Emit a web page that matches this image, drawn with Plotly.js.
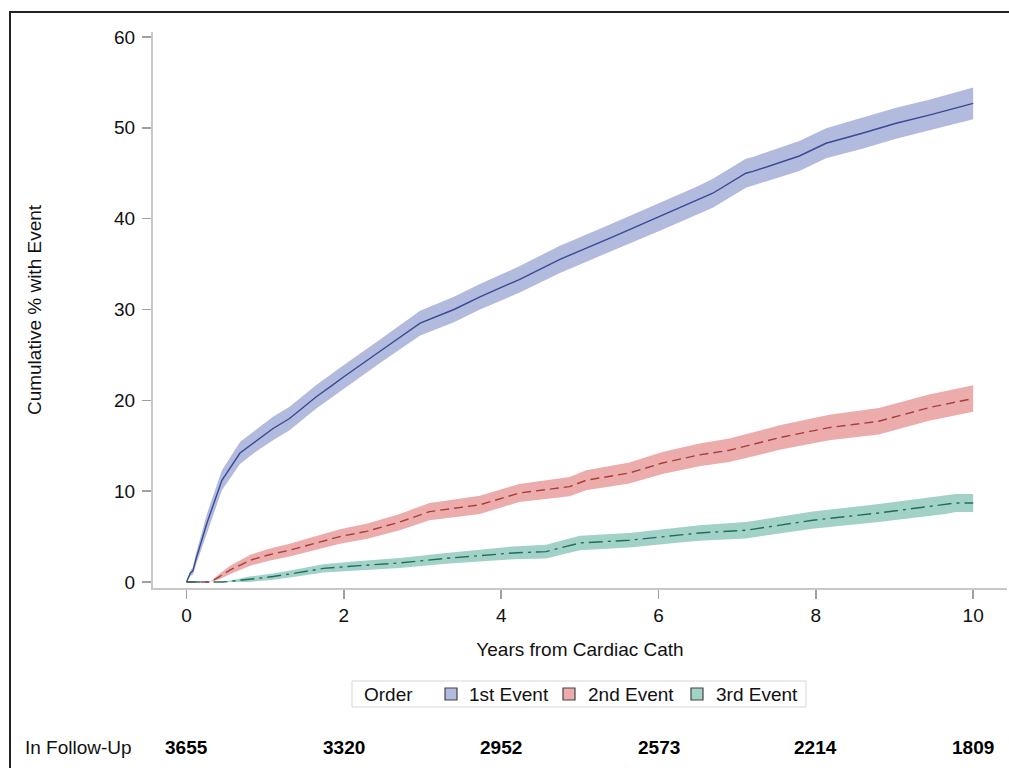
<!DOCTYPE html>
<html>
<head>
<meta charset="utf-8">
<script src="https://cdn.plot.ly/plotly-3.0.1.min.js"></script>
<style>
  html, body { margin: 0; padding: 0; background: #fff; overflow: hidden; }
  #chart { width: 1009px; height: 768px; position: relative; }
  #frame { position: absolute; left: 9px; top: 11px; width: 1200px; height: 900px;
           border-top: 2px solid #222; border-left: 2px solid #222; pointer-events: none; }
</style>
</head>
<body>
<div id="chart"></div>
<div id="frame"></div>
<script>
// ---- Data ----
const seriesNames = ['1st Event', '2nd Event', '3rd Event'];

const t1 = [0, 0.05, 0.08, 0.12, 0.26, 0.45, 0.68, 0.89, 1.1, 1.31, 1.65, 1.86, 2.0, 2.46, 2.97, 3.4, 3.73, 4.23, 4.74, 5.42, 6.01, 6.52, 6.69, 7.11, 7.2, 7.79, 8.13, 8.59, 9.02, 9.44, 10.0];
const est1 = [0, 1.0, 1.2, 2.5, 6.5, 11.2, 14.2, 15.6, 16.9, 18.0, 20.4, 21.7, 22.6, 25.4, 28.5, 30.0, 31.4, 33.3, 35.5, 38.0, 40.2, 42.1, 42.8, 45.0, 45.2, 46.9, 48.3, 49.4, 50.5, 51.4, 52.7];
const lo1 = [0, 0.7, 0.8, 1.9, 5.5, 10.1, 13.0, 14.4, 15.6, 16.7, 19.1, 20.4, 21.3, 24.1, 27.15, 28.6, 30.0, 31.85, 34.0, 36.5, 38.65, 40.55, 41.2, 43.4, 43.6, 45.25, 46.65, 47.7, 48.8, 49.7, 50.95];
const hi1 = [0, 1.3, 1.6, 3.1, 7.5, 12.3, 15.4, 16.8, 18.2, 19.3, 21.7, 23.0, 23.9, 26.7, 29.85, 31.4, 32.8, 34.75, 37.0, 39.5, 41.75, 43.65, 44.4, 46.6, 46.8, 48.55, 49.95, 51.1, 52.2, 53.1, 54.45];

const t2 = [0, 0.3, 0.42, 0.55, 0.81, 1.05, 1.31, 1.65, 1.95, 2.3, 2.71, 3.09, 3.4, 3.73, 4.23, 4.87, 5.08, 5.63, 6.05, 6.52, 6.9, 7.54, 8.17, 8.8, 9.44, 10.0];
const est2 = [0, 0, 0.6, 1.3, 2.4, 3.0, 3.5, 4.3, 5.0, 5.6, 6.6, 7.75, 8.1, 8.5, 9.8, 10.5, 11.2, 12.0, 13.1, 14.0, 14.5, 15.9, 17.0, 17.7, 19.2, 20.2];
const lo2 = [0, 0, 0.3, 0.85, 1.8, 2.35, 2.8, 3.55, 4.2, 4.75, 5.7, 6.8, 7.15, 7.5, 8.8, 9.45, 10.1, 10.85, 11.9, 12.75, 13.2, 14.55, 15.6, 16.25, 17.75, 18.75];
const hi2 = [0, 0, 0.9, 1.75, 3.0, 3.65, 4.2, 5.05, 5.8, 6.45, 7.5, 8.7, 9.05, 9.5, 10.8, 11.55, 12.3, 13.15, 14.3, 15.25, 15.8, 17.25, 18.4, 19.15, 20.65, 21.65];

const t3 = [0, 0.47, 0.8, 1.1, 1.4, 1.74, 2.2, 2.71, 3.3, 3.7, 4.15, 4.57, 5.0, 5.63, 6.27, 6.52, 7.11, 7.96, 8.8, 9.65, 9.78, 10.0];
const est3 = [0, 0, 0.3, 0.6, 1.0, 1.5, 1.8, 2.1, 2.6, 2.9, 3.2, 3.35, 4.3, 4.6, 5.2, 5.4, 5.7, 6.8, 7.6, 8.5, 8.7, 8.7];
const lo3 = [0, 0, 0.0, 0.25, 0.6, 1.05, 1.3, 1.55, 2.0, 2.25, 2.5, 2.6, 3.5, 3.8, 4.35, 4.55, 4.8, 5.85, 6.6, 7.5, 7.7, 7.7];
const hi3 = [0, 0, 0.6, 0.95, 1.4, 1.95, 2.3, 2.65, 3.2, 3.55, 3.9, 4.1, 5.1, 5.4, 6.05, 6.25, 6.6, 7.75, 8.6, 9.5, 9.7, 9.7];

const atRiskYears = [0, 2, 4, 6, 8, 10];
const atRiskCounts = ['3655', '3320', '2952', '2573', '2214', '1809'];

const xTicks = [0, 2, 4, 6, 8, 10];
const yTicks = [0, 10, 20, 30, 40, 50, 60];

// ---- Styles ----
const bandColors = ['rgb(178,186,222)', 'rgb(236,172,172)', 'rgb(162,210,199)'];
const lineColors = ['rgb(58,72,150)', 'rgb(170,60,60)', 'rgb(30,110,94)'];
const dashes = ['solid', '9px,5px', '14px,5px,3px,5px'];
const FONT = 'Liberation Sans, Arial, sans-serif';

const groups = [[t1, est1, lo1, hi1], [t2, est2, lo2, hi2], [t3, est3, lo3, hi3]];
const traces = [];
groups.forEach((g, i) => {
  const [t, e, lo, hi] = g;
  traces.push({
    x: t.concat(t.slice().reverse()),
    y: hi.concat(lo.slice().reverse()),
    type: 'scatter', mode: 'lines', fill: 'toself',
    fillcolor: bandColors[i], line: {width: 0, color: bandColors[i]},
    hoverinfo: 'skip', showlegend: false, name: seriesNames[i] + ' CI'
  });
});
groups.forEach((g, i) => {
  const [t, e] = g;
  traces.push({
    x: t, y: e, type: 'scatter', mode: 'lines', name: seriesNames[i],
    line: {color: lineColors[i], width: 1.4, dash: dashes[i]}, showlegend: false
  });
});

// pixel -> paper helpers for the custom legend / at-risk row
const L = 153, R = 1007, T = 32, B = 588;
const px = v => (v - L) / (R - L);
const py = v => (B - v) / (B - T);

const shapes = [
  {type: 'rect', xref: 'paper', yref: 'paper', x0: px(352), x1: px(806), y0: py(707), y1: py(681),
   line: {color: 'rgb(215,215,215)', width: 1}, fillcolor: 'rgba(0,0,0,0)'}
];
const annotations = [
  {text: 'Order', xref: 'paper', yref: 'paper', x: px(362), y: py(694), xanchor: 'left', yanchor: 'middle',
   showarrow: false, font: {family: FONT, size: 19, color: '#111'}}
];
const swatchX = [445, 563, 691];
const labelX = [467, 586, 714];
seriesNames.forEach((n, i) => {
  shapes.push({type: 'rect', xref: 'paper', yref: 'paper', x0: px(swatchX[i]), x1: px(swatchX[i] + 12),
    y0: py(700), y1: py(688), fillcolor: bandColors[i], line: {color: '#444', width: 1.2}});
  annotations.push({text: n, xref: 'paper', yref: 'paper', x: px(labelX[i]), y: py(694),
    xanchor: 'left', yanchor: 'middle', showarrow: false, font: {family: FONT, size: 19, color: '#111'}});
});
annotations.push({text: 'In Follow-Up', xref: 'paper', yref: 'paper', x: px(23), y: py(747),
  xanchor: 'left', yanchor: 'middle', showarrow: false, font: {family: FONT, size: 19, color: '#111'}});
atRiskYears.forEach((yr, i) => {
  annotations.push({text: '<b>' + atRiskCounts[i] + '</b>', xref: 'x', yref: 'paper', x: yr, y: py(747),
    xanchor: 'center', yanchor: 'middle', showarrow: false, font: {family: FONT, size: 19, color: '#000'}});
});

const layout = {
  width: 1009, height: 768,
  margin: {l: L, r: 1009 - R, t: T, b: 768 - B, pad: 0},
  paper_bgcolor: '#fff', plot_bgcolor: '#fff',
  showlegend: false,
  xaxis: {
    range: [-0.426, 10.43], tickvals: xTicks, ticktext: xTicks.map(String),
    showgrid: false, zeroline: false, showline: true, linecolor: 'rgb(200,200,200)', linewidth: 2,
    ticks: 'outside', ticklen: 9, tickwidth: 1.5, tickcolor: 'rgb(160,160,160)',
    tickfont: {family: FONT, size: 19, color: '#111'},
    title: {text: 'Years from Cardiac Cath', font: {family: FONT, size: 19, color: '#111'}, standoff: 18}
  },
  yaxis: {
    range: [-0.66, 60.55], tickvals: yTicks, ticktext: yTicks.map(String),
    showgrid: false, zeroline: false, showline: true, linecolor: 'rgb(200,200,200)', linewidth: 2,
    ticks: 'outside', ticklen: 9, tickwidth: 1.5, tickcolor: 'rgb(160,160,160)',
    tickfont: {family: FONT, size: 19, color: '#111'}, ticklabelstandoff: 3,
    title: {text: 'Cumulative % with Event', font: {family: FONT, size: 19, color: '#111'}, standoff: 67}
  },
  shapes: shapes,
  annotations: annotations
};

Plotly.newPlot('chart', traces, layout, {displayModeBar: false, staticPlot: true});
</script>
</body>
</html>
